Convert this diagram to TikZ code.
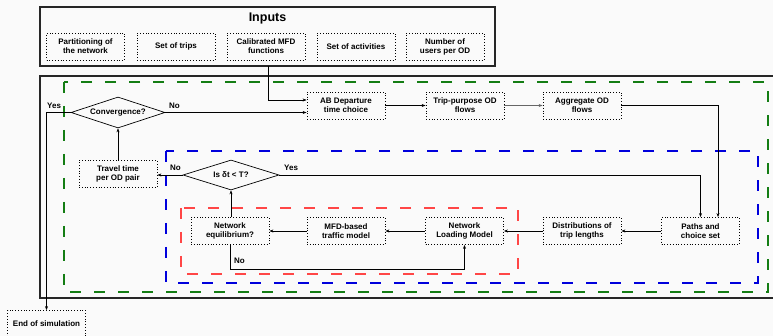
\documentclass[tikz,border=0pt]{standalone}
\usepackage{fontspec}
\setmainfont{Liberation Sans}
\usetikzlibrary{shapes.geometric,arrows.meta}
\definecolor{bg}{RGB}{250,250,250}
\definecolor{dgreen}{RGB}{20,125,20}
\definecolor{dblue}{RGB}{0,0,220}
\definecolor{dred}{RGB}{255,70,70}
\tikzset{
  box/.style={draw, dotted, thick, minimum width=78pt, minimum height=27pt, inner sep=1pt,
    align=center, font=\fontsize{8}{9}\selectfont\bfseries},
  dec/.style={draw, diamond, aspect=3.1, inner sep=0pt, line width=0.7pt, font=\fontsize{8}{9}\selectfont\bfseries},
  arr/.style={-{Stealth[length=4pt,width=3pt]}, line width=0.6pt},
  lbl/.style={font=\fontsize{8}{9}\selectfont\bfseries, inner sep=0pt},
  frame/.style={line width=1.5pt, draw=black!85},
  dframe/.style={line width=1.4pt, dash pattern=on 11pt off 13pt},
}
\begin{document}
\begin{tikzpicture}[x=1pt,y=-1pt]
\fill[bg] (0,0) rectangle (773,336);
\useasboundingbox (0,0) rectangle (773,336);
% frames
\draw[frame] (40,7) rectangle (495,66);
\node[font=\fontsize{12.5}{14}\selectfont\bfseries] (title) at (267.5,19) {Inputs};
\draw[frame] (780,76) -- (40,76) -- (40,298) -- (780,298);
\draw[dframe, draw=dgreen] (64,82) rectangle (768,292);
\draw[dframe, draw=dblue] (166,151) rectangle (758,283);
\draw[dframe, draw=dred] (181,208) rectangle (518,274);
\coordinate (inbot) at (268.5,66);
% input boxes
\node[box] (part) at (85.5,46.5) {Partitioning of\\the network};
\node[box] (trips) at (176,46.5) {Set of trips};
\node[box] (calib) at (266,46.5) {Calibrated MFD\\functions};
\node[box] (acts) at (356,46.5) {Set of activities};
\node[box] (users) at (445,46.5) {Number of\\users per OD};
% process boxes
\node[box] (ab) at (346,105.5) {AB Departure\\time choice};
\node[box] (trip) at (465,105.5) {Trip-purpose OD\\flows};
\node[box] (agg) at (582,105.5) {Aggregate OD\\flows};
\node[box] (paths) at (700.5,231) {Paths and\\choice set};
\node[box] (dist) at (582,231) {Distributions of\\trip lengths};
\node[box] (nlm) at (464.5,231) {Network\\Loading Model};
\node[box] (mfd) at (346,231) {MFD-based\\traffic model};
\node[box] (neq) at (230,231) {Network\\equilibrium?};
\node[box] (tt) at (118,174) {Travel time\\per OD pair};
\node[box, minimum height=26pt] (end) at (46.5,323.5) {End of simulation};
\node[dec, minimum width=94pt, minimum height=31pt] (conv) at (118,112.5) {Convergence?};
\node[dec, minimum width=96pt, minimum height=30pt] (isdt) at (231,175) {Is δt < T?};
% connectors
\draw[arr] (inbot) |- ([yshift=5.5pt]ab.west);
\draw[arr] (conv.east) -- (conv.east -| ab.west);
\draw[arr] (ab) -- (trip);
\draw[arr, line width=1.1pt, draw=black!60] (trip) -- (agg);
\draw[arr] (agg.east) -| ([xshift=17.5pt]paths.north);
\draw[arr] (isdt.east) -| (paths.north);
\draw[arr] (paths) -- (dist);
\draw[arr] (dist) -- (nlm);
\draw[arr] (nlm) -- (mfd);
\draw[arr] (mfd) -- (neq);
\draw[arr] (neq.north -| isdt.south) -- (isdt.south);
\draw[arr] (neq.south) -- ++(0,24) coordinate (nob) -| (nlm.south);
\draw[arr] (isdt.west) -- (isdt.west -| tt.east);
\draw[arr] (tt.north) -- (conv.south);
\draw[arr] (conv.west) -| (end.north);
% labels
\node[lbl, anchor=south west] (lno1) at (170,171) {No};
\node[lbl, anchor=south west] (lyes1) at (284,171) {Yes};
\node[lbl, anchor=south west] (lno2) at (169,109) {No};
\node[lbl, anchor=south west] (lyes2) at (47,109) {Yes};
\node[lbl, anchor=west] (lno3) at (234,261) {No};
\end{tikzpicture}
\end{document}
